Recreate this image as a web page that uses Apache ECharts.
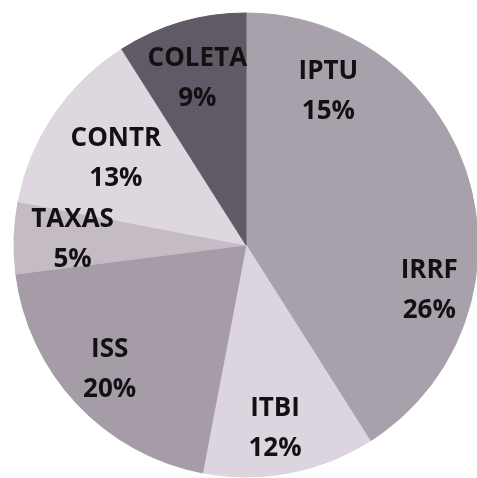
<!DOCTYPE html>
<html lang="pt">
<head>
    <meta charset="UTF-8">
    <title>Receitas</title>
    <script type="text/javascript" src="https://cdn.jsdelivr.net/npm/echarts@6/dist/echarts.min.js"></script>
    <style>
        body{
            margin: 0;
            background: #ffffff;
        }
        #chart{
            width: 477px;
            height: 478px;
        }
    </style>
</head>
<body>
<div id="chart"></div>
<script>
    // categorias e valores (%), no sentido horario a partir do topo
    let names = ['IPTU', 'IRRF', 'ITBI', 'ISS', 'TAXAS', 'CONTR', 'COLETA'];
    let values = [15, 26, 12, 20, 5, 13, 9];
    let colors = ['#a8a0aa', '#a8a0aa', '#dcd4de', '#a59ca8', '#c4bbc5', '#ded7df', '#615a66'];
    // pequeno ajuste de cada rotulo
    let labelOffsets = [[0, 8], [5, 12], [-5, 5], [-4, 0], [8, 0], [20, 16], [2, 8]];

    let chartData = [];
    for (let i = 0; i < names.length; i++) {
        // borda da mesma cor da fatia, sem linha branca entre fatias
        chartData.push({name: names[i], value: values[i], itemStyle: {color: colors[i], borderColor: colors[i]}});
    }

    var myChart = echarts.init(document.getElementById('chart'));
    var option = {
        animation: false,
        series: [
            // fatias
            {
                type: 'pie',
                center: [246, 245],
                radius: [0, 232],
                startAngle: 90,
                clockwise: true,
                padAngle: 0,
                silent: true,
                label: {show: false},
                labelLine: {show: false},
                itemStyle: {borderWidth: 1},
                data: chartData
            },
            // rotulos (anel transparente para posicionar o texto mais perto da borda)
            {
                type: 'pie',
                center: [246, 245],
                radius: [125, 232],
                startAngle: 90,
                clockwise: true,
                silent: true,
                itemStyle: {color: 'rgba(0,0,0,0)', borderWidth: 0},
                label: {
                    show: true,
                    position: 'inside',
                    color: '#111',
                    fontFamily: 'Open Sans',
                    fontWeight: 'bold',
                    fontSize: 26,
                    lineHeight: 40,
                    formatter: function (p) {
                        return p.name + '\n' + p.value + '%';
                    }
                },
                labelLine: {show: false},
                data: chartData.map(function (d, i) {
                    return {name: d.name, value: d.value, label: {offset: labelOffsets[i]}};
                })
            }
        ]
    };
    myChart.setOption(option);
</script>
</body>
</html>
